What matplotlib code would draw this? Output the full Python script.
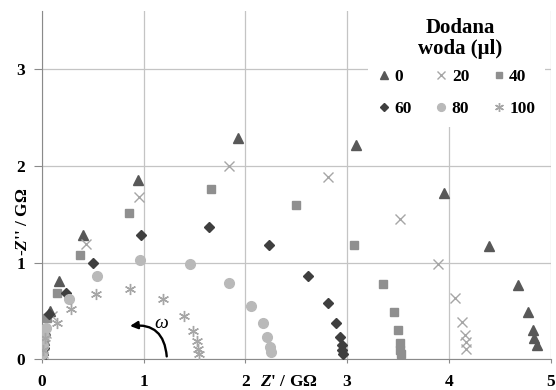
import numpy as np
import matplotlib.pyplot as plt
from matplotlib.patches import FancyArrowPatch, Rectangle
from matplotlib.transforms import blended_transform_factory

plt.rcParams['font.family'] = ['Liberation Serif', 'DejaVu Serif']
plt.rcParams['font.weight'] = 'bold'
plt.rcParams['mathtext.fontset'] = 'custom'
plt.rcParams['mathtext.it'] = 'Liberation Serif:italic:bold'
plt.rcParams['mathtext.rm'] = 'Liberation Serif:bold'

x0 = [0.00, 0.01, 0.02, 0.03, 0.08, 0.17, 0.41, 0.95, 1.93, 3.09, 3.95, 4.39, 4.68, 4.78, 4.83, 4.84, 4.87]
y0 = [0.03, 0.10, 0.20, 0.30, 0.50, 0.81, 1.29, 1.85, 2.29, 2.22, 1.72, 1.17, 0.77, 0.49, 0.30, 0.22, 0.15]

x20 = [0.01, 0.02, 0.04, 0.10, 0.44, 0.96, 1.84, 2.81, 3.52, 3.89, 4.06, 4.13, 4.16, 4.17, 4.17]
y20 = [0.06, 0.15, 0.27, 0.45, 1.19, 1.68, 2.00, 1.89, 1.45, 0.98, 0.63, 0.38, 0.25, 0.18, 0.11]

x40 = [0.01, 0.02, 0.05, 0.15, 0.38, 0.86, 1.66, 2.50, 3.07, 3.35, 3.46, 3.50, 3.52, 3.52, 3.53]
y40 = [0.08, 0.20, 0.43, 0.69, 1.08, 1.51, 1.76, 1.60, 1.18, 0.78, 0.49, 0.30, 0.17, 0.10, 0.05]

x60 = [0.02, 0.07, 0.24, 0.50, 0.98, 1.64, 2.23, 2.62, 2.81, 2.89, 2.93, 2.95, 2.95, 2.96]
y60 = [0.12, 0.47, 0.69, 1.00, 1.29, 1.37, 1.18, 0.86, 0.58, 0.37, 0.23, 0.15, 0.10, 0.05]

x80 = [0.00, 0.01, 0.02, 0.04, 0.27, 0.54, 0.97, 1.46, 1.84, 2.06, 2.17, 2.21, 2.24, 2.25]
y80 = [0.05, 0.14, 0.24, 0.32, 0.62, 0.86, 1.03, 0.99, 0.79, 0.55, 0.37, 0.23, 0.13, 0.07]

x100 = [0.01, 0.03, 0.15, 0.29, 0.53, 0.87, 1.19, 1.40, 1.49, 1.53, 1.54, 1.55]
y100 = [0.09, 0.22, 0.37, 0.52, 0.67, 0.73, 0.62, 0.45, 0.29, 0.19, 0.11, 0.05]

series = [
    ('0', x0, y0, '^', '#585858', 6.5, 1.0),
    ('20', x20, y20, 'x', '#a6a6a6', 7.5, 1.0),
    ('40', x40, y40, 's', '#8f8f8f', 6.0, 1.0),
    ('60', x60, y60, 'D', '#3f3f3f', 5.0, 1.0),
    ('80', x80, y80, 'o', '#b9b9b9', 7.0, 1.0),
    ('100', x100, y100, (6, 2, 0), '#a6a6a6', 8.0, 1.0),
]

fig = plt.figure(figsize=(5.56, 3.90), dpi=100)
ax = fig.add_axes([0.075, 0.079, 0.9155, 0.892])

hands = []
for lab, xs, ys, mk, col, ms, mew in series:
    h, = ax.plot(xs, ys, ls='none', marker=mk, color=col, ms=ms, mew=mew,
                 label=lab, zorder=3)
    hands.append(h)

ax.set_xlim(0, 5)
ax.set_ylim(0, 3.6)
ax.set_xticks([0, 1, 2, 3, 4, 5])
ax.set_yticks([0, 1, 2, 3])
ax.grid(True, color='#c4c4c4', lw=0.9)
ax.set_axisbelow(True)
for s in ['top', 'right']:
    ax.spines[s].set_visible(False)
ax.spines['left'].set_color('#8a8a8a')
ax.spines['bottom'].set_color('#8a8a8a')
ax.tick_params(axis='y', length=6, color='#8a8a8a', labelsize=12.5, pad=6)
ax.tick_params(axis='x', length=3, color='#8a8a8a', labelsize=12.5, pad=8)

# axis titles sit in the tick label rows
tr = blended_transform_factory(fig.transFigure, ax.transData)
fig.text(23 / 556, 1.42, "-$Z$'' / GΩ", fontsize=12.5, fontweight='bold', rotation=90,
         ha='center', va='center', transform=tr)
ax.text(2.43, -0.235, "$Z$' / GΩ", fontsize=12.5, fontweight='bold',
        ha='center', va='center', clip_on=False)

# omega arrow
arr = FancyArrowPatch((1.23, 0.0), (0.84, 0.34), connectionstyle='arc3,rad=0.55',
                      arrowstyle='-|>', mutation_scale=11, color='black', lw=1.7)
ax.add_patch(arr)
ax.text(1.17, 0.37, 'ω', fontsize=14, fontstyle='italic', fontweight='normal',
        ha='center', va='center')

# white legend area
ax.add_patch(Rectangle((3.205, 2.40), 1.74, 1.3, facecolor='white', edgecolor='none',
                       zorder=2, clip_on=False))
ax.text(4.11, 3.317, 'Dodana\nwoda (μl)', fontsize=15, fontweight='bold',
        ha='center', va='center', multialignment='center', linespacing=1.1, zorder=4)

order = [0, 3, 1, 4, 2, 5]
leg = ax.legend([hands[i] for i in order], [series[i][0] for i in order],
                ncol=3, loc='center', bbox_to_anchor=(4.08, 2.753),
                bbox_transform=ax.transData,
                fontsize=12.5, frameon=False,
                handlelength=0.6, handletextpad=0.3, columnspacing=1.4,
                labelspacing=0.9, markerscale=0.8)
leg.set_zorder(5)

fig.savefig('out.png', dpi=100)
